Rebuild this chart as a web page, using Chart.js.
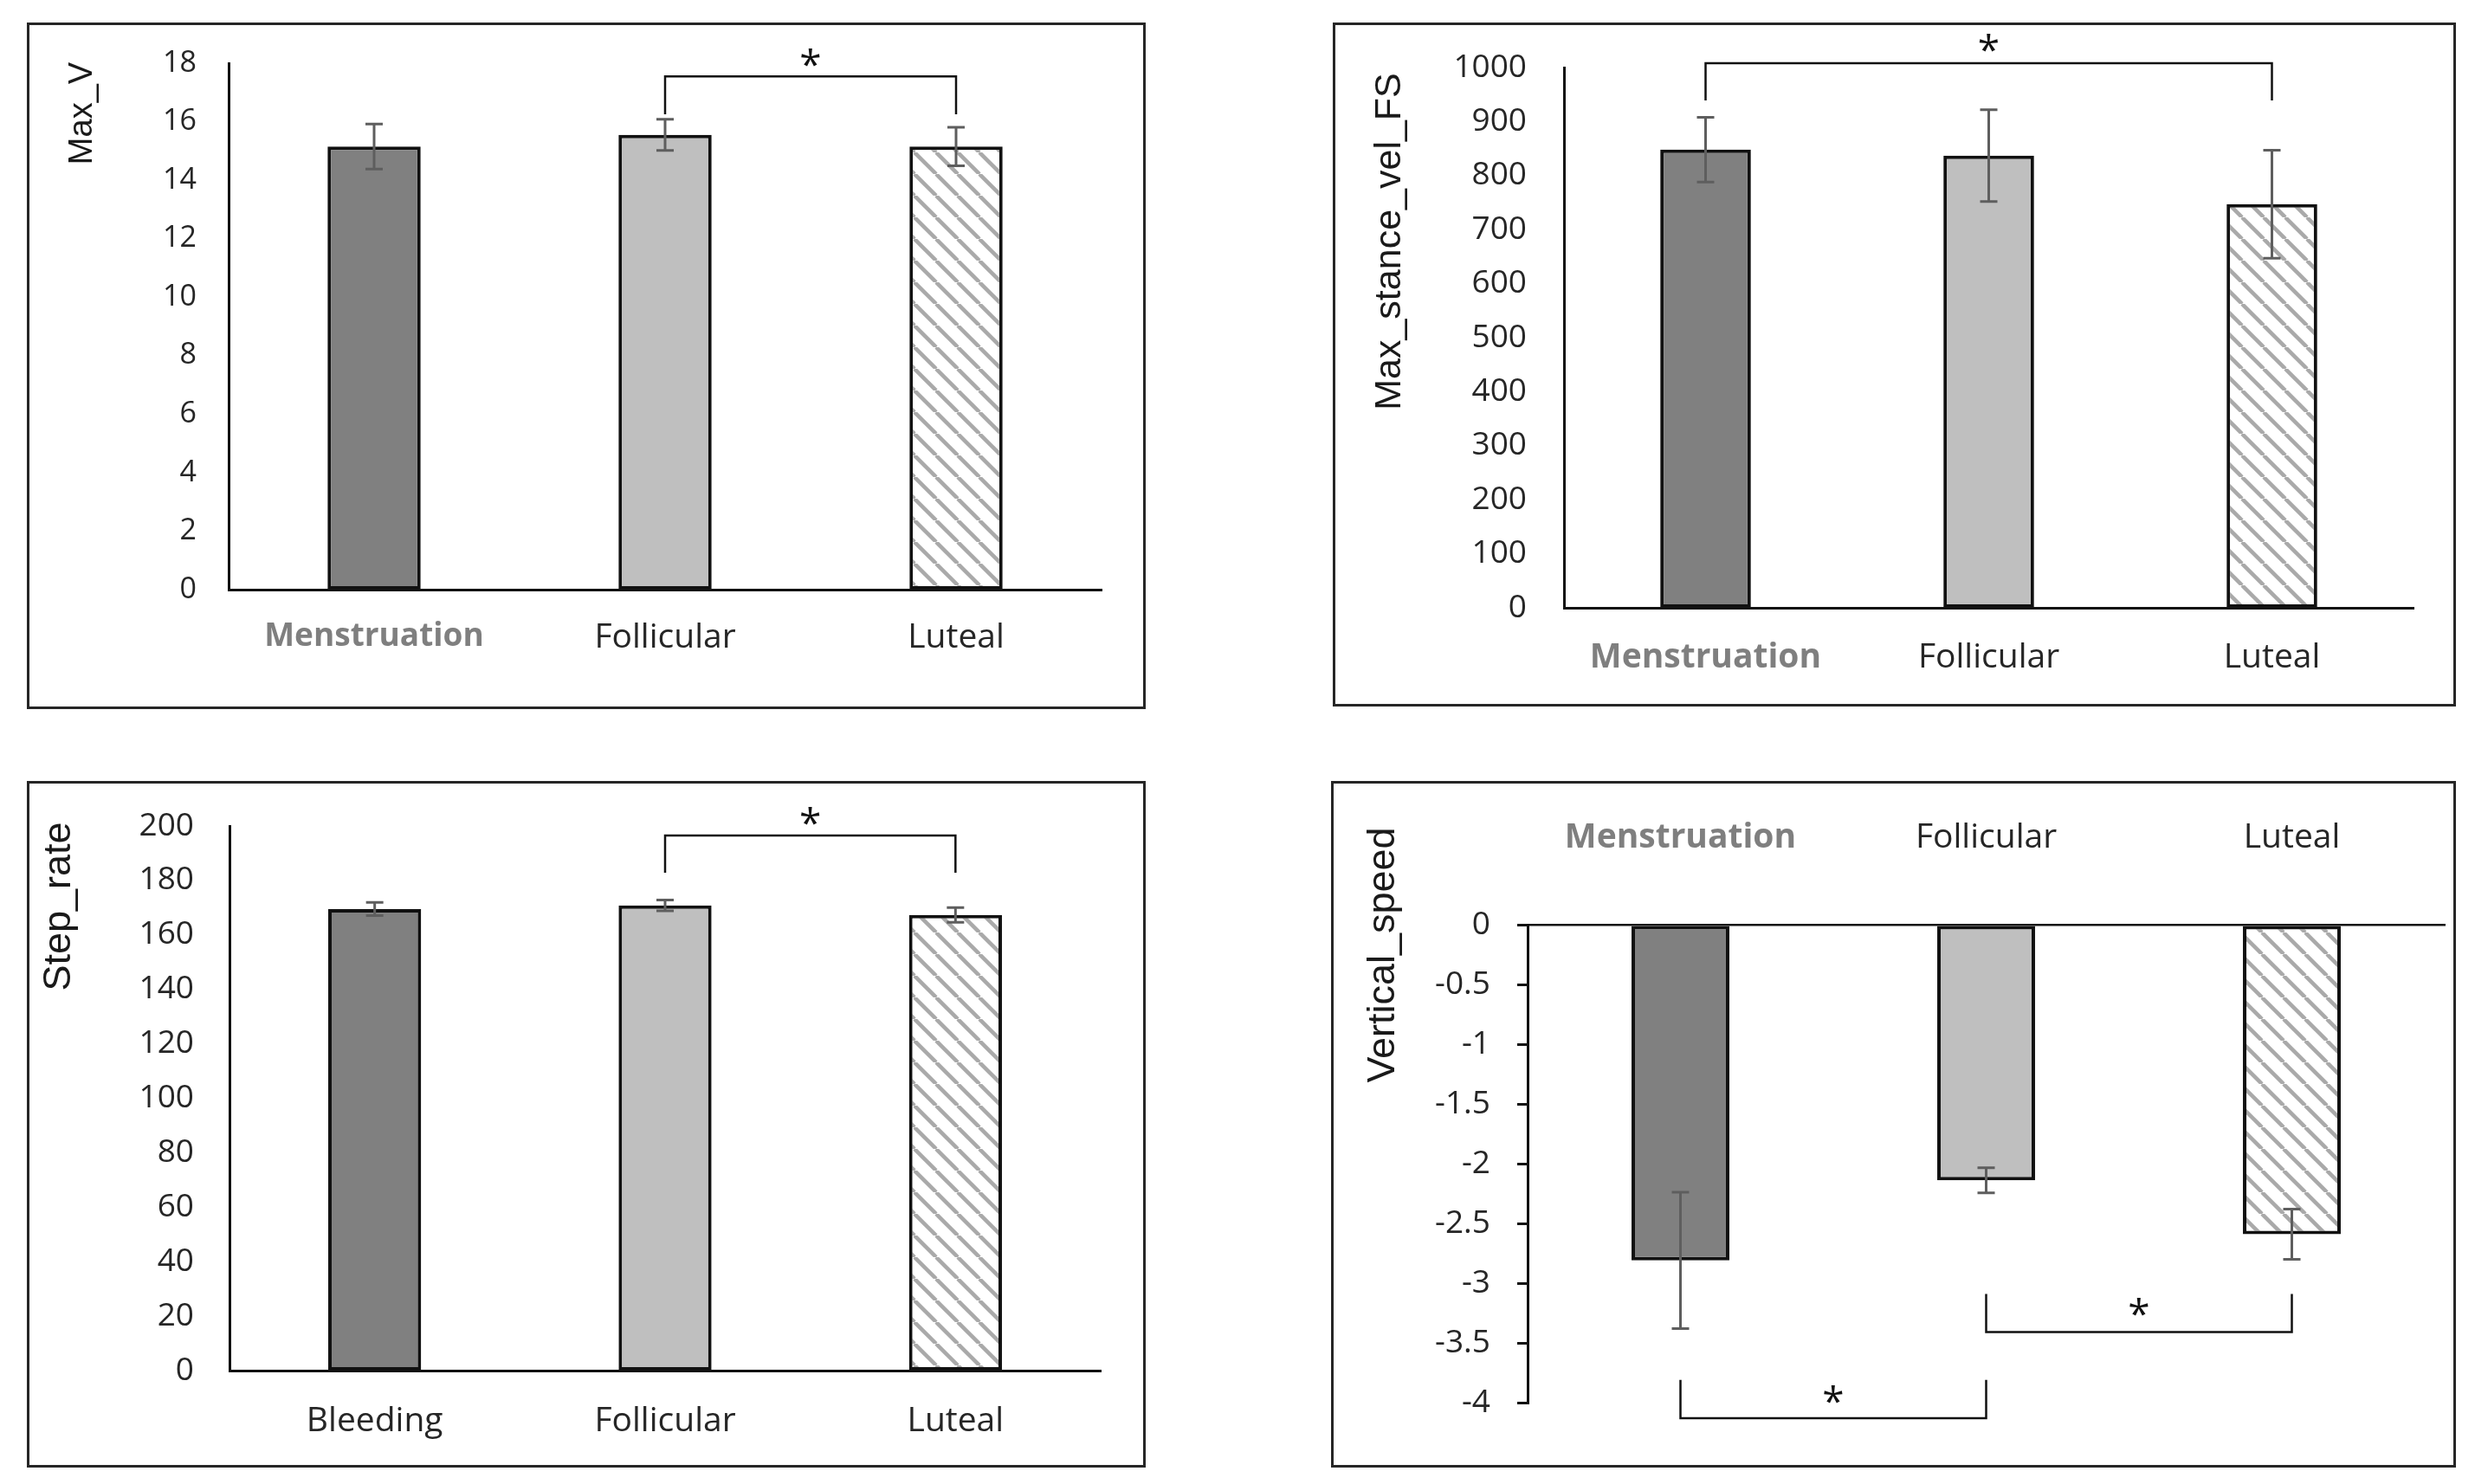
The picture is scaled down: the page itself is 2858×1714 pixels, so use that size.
<!DOCTYPE html>
<html>
<head>
<meta charset="utf-8">
<script src="https://cdn.jsdelivr.net/npm/chart.js@4.4.0/dist/chart.umd.min.js"></script>
<style>
  body { margin: 0; background: #fff; width: 2858px; height: 1714px; position: relative; overflow: hidden; }
  .panel { position: absolute; box-sizing: border-box; border: 3px solid #262626; }
  .panel canvas { position: absolute; left: -3px; top: -3px; }
</style>
</head>
<body>
<div class="panel" style="left:31px;top:26px;width:1292px;height:793px"><canvas id="c1" width="1292" height="793"></canvas></div>
<div class="panel" style="left:1539px;top:26px;width:1297px;height:790px"><canvas id="c2" width="1297" height="790"></canvas></div>
<div class="panel" style="left:31px;top:902px;width:1292px;height:793px"><canvas id="c3" width="1292" height="793"></canvas></div>
<div class="panel" style="left:1537px;top:902px;width:1299px;height:793px"><canvas id="c4" width="1299" height="793"></canvas></div>
<script>
// categories
const phases = ['Menstruation', 'Follicular', 'Luteal'];
const phasesStep = ['Bleeding', 'Follicular', 'Luteal'];

// Max_V
const maxV = [15.15, 15.55, 15.15];
const maxVErr = [0.77, 0.53, 0.66];
const maxVTicks = [0, 2, 4, 6, 8, 10, 12, 14, 16, 18];

// Max_stance_vel_FS
const stanceVel = [848, 837, 747];
const stanceVelErr = [60, 85, 100];
const stanceVelTicks = [0, 100, 200, 300, 400, 500, 600, 700, 800, 900, 1000];

// Step_rate
const stepRate = [169.5, 170.8, 167.3];
const stepRateErr = [2.4, 2.0, 2.7];
const stepRateTicks = [0, 20, 40, 60, 80, 100, 120, 140, 160, 180, 200];

// Vertical_speed
const vertSpeed = [-2.81, -2.14, -2.59];
const vertSpeedErr = [0.57, 0.105, 0.21];
const vertSpeedTicks = [-4, -3.5, -3, -2.5, -2, -1.5, -1, -0.5, 0];

// significance brackets: [from bar, to bar, line value, leg end value, star value]
const maxVSig = [[1, 2, 17.55, 16.25, 18.2]];
const stanceVelSig = [[0, 2, 1008, 939, 1045]];
const stepRateSig = [[1, 2, 196.5, 182.8, 203.5]];
const vertSpeedSig = [[1, 2, -3.41, -3.09, -3.2], [0, 1, -4.13, -3.81, -3.93]];

Chart.defaults.font.family = "'Open Sans', sans-serif";

function hatchPattern(ctx)
{
  const s = 25;
  const tile = document.createElement('canvas');
  tile.width = s;
  tile.height = s;
  const g = tile.getContext('2d');
  g.fillStyle = '#ffffff';
  g.fillRect(0, 0, s, s);
  g.strokeStyle = '#a9a9a9';
  g.lineWidth = 4.5;
  for (const o of [-s, 0, s]) {
    g.beginPath();
    g.moveTo(o, 0);
    g.lineTo(o + s, s);
    g.stroke();
  }
  return ctx.createPattern(tile, 'repeat');
}

// text centred on its visible glyph box
function drawText(ctx, text, x, y, font, color, rot)
{
  ctx.save();
  ctx.font = font;
  ctx.fillStyle = color;
  ctx.textAlign = 'center';
  ctx.textBaseline = 'alphabetic';
  const m = ctx.measureText(text);
  ctx.translate(x, y);
  ctx.rotate(rot);
  ctx.fillText(text, 0, (m.actualBoundingBoxAscent - m.actualBoundingBoxDescent) / 2);
  ctx.restore();
}

function makePanel(p)
{
  const canvas = document.getElementById(p.id);
  const ctx = canvas.getContext('2d');

  const overlay = {
    id: 'overlay',
    afterDraw(chart) {
      const c = chart.ctx;
      const ys = chart.scales.y;
      const bars = chart.getDatasetMeta(0).data;
      c.save();
      // error bars
      c.strokeStyle = '#5e5e5e';
      c.lineWidth = 3;
      p.values.forEach((v, i) => {
        const x = bars[i].x;
        const hi = ys.getPixelForValue(v + p.errors[i]);
        const lo = ys.getPixelForValue(v - p.errors[i]);
        c.beginPath();
        c.moveTo(x, hi); c.lineTo(x, lo);
        c.moveTo(x - 10, hi); c.lineTo(x + 10, hi);
        c.moveTo(x - 10, lo); c.lineTo(x + 10, lo);
        c.stroke();
      });
      // significance brackets
      c.strokeStyle = '#111111';
      c.lineWidth = 2.5;
      p.sig.forEach(([a, b, line, leg, star]) => {
        const xa = bars[a].x, xb = bars[b].x;
        const yl = ys.getPixelForValue(line), yg = ys.getPixelForValue(leg);
        c.beginPath();
        c.moveTo(xa, yg); c.lineTo(xa, yl); c.lineTo(xb, yl); c.lineTo(xb, yg);
        c.stroke();
        drawText(c, '*', (xa + xb) / 2, ys.getPixelForValue(star), "46px 'Open Sans'", '#111111', 0);
      });
      // axis title
      drawText(c, p.title, p.titleX, p.titleY, p.titleSize + "px 'Liberation Sans'", '#1a1a1a', -Math.PI / 2);
      c.restore();
    }
  };

  const isMens = i => p.labels[i] === 'Menstruation';

  new Chart(ctx, {
    type: 'bar',
    data: {
      labels: p.labels,
      datasets: [{
        data: p.values,
        backgroundColor: ['#808080', '#bfbfbf', hatchPattern(ctx)],
        borderColor: '#111111',
        borderWidth: 4,
        borderSkipped: false,
        barPercentage: 0.32,
        categoryPercentage: 1
      }]
    },
    options: {
      responsive: false,
      animation: false,
      layout: { padding: p.padding },
      plugins: {
        legend: { display: false },
        tooltip: { enabled: false }
      },
      scales: {
        x: {
          position: p.xPos,
          grid: { display: false, drawTicks: false },
          border: { display: true, color: '#111111', width: p.xBorder },
          ticks: {
            padding: p.xPad,
            maxRotation: 0,
            autoSkip: false,
            color: c => isMens(c.index) ? '#7f7f7f' : '#262626',
            font: c => isMens(c.index)
              ? { family: "'Open Sans'", size: p.mensSize, weight: 'bold' }
              : { family: "'Open Sans'", size: 39, weight: 'normal' }
          },
          afterFit: s => { s.height = p.xh; s.paddingLeft = 0; s.paddingRight = 0; }
        },
        y: {
          min: p.ticks[0],
          max: p.ticks[p.ticks.length - 1],
          afterBuildTicks: s => { s.ticks = p.ticks.map(v => ({ value: v })); },
          grid: p.yTickMarks
            ? { display: true, drawOnChartArea: false, drawTicks: true, tickLength: 12, color: '#111111', lineWidth: 3 }
            : { display: false, drawTicks: false },
          border: { display: true, color: '#111111', width: 3 },
          ticks: {
            padding: p.yPad,
            color: '#262626',
            font: { size: p.tickSize },
            callback: v => String(v)
          },
          afterFit: s => { s.width = p.yw; s.paddingTop = 0; s.paddingBottom = 0; }
        }
      }
    },
    plugins: [overlay]
  });
}

makePanel({
  id: 'c1', labels: phases, values: maxV, errors: maxVErr, ticks: maxVTicks, sig: maxVSig,
  title: 'Max_V', titleX: 65, titleY: 105, titleSize: 38,
  padding: { left: 0, top: 47, right: 51, bottom: 0 }, yw: 233, xh: 138, mensSize: 37,
  xPos: 'bottom', xPad: 32, xBorder: 3, yPad: 37, tickSize: 34, yTickMarks: false
});

makePanel({
  id: 'c2', labels: phases, values: stanceVel, errors: stanceVelErr, ticks: stanceVelTicks, sig: stanceVelSig,
  title: 'Max_stance_vel_FS', titleX: 66, titleY: 253, titleSize: 43,
  padding: { left: 0, top: 52, right: 49, bottom: 0 }, yw: 267, xh: 114, mensSize: 39,
  xPos: 'bottom', xPad: 34, xBorder: 3, yPad: 43, tickSize: 37, yTickMarks: false
});

makePanel({
  id: 'c3', labels: phasesStep, values: stepRate, errors: stepRateErr, ticks: stepRateTicks, sig: stepRateSig,
  title: 'Step_rate', titleX: 39, titleY: 145, titleSize: 45,
  padding: { left: 0, top: 52, right: 52, bottom: 0 }, yw: 234, xh: 112, mensSize: 39,
  xPos: 'bottom', xPad: 35, xBorder: 3, yPad: 41, tickSize: 37, yTickMarks: false
});

makePanel({
  id: 'c4', labels: phases, values: vertSpeed, errors: vertSpeedErr, ticks: vertSpeedTicks, sig: vertSpeedSig,
  title: 'Vertical_speed', titleX: 61, titleY: 201, titleSize: 45,
  padding: { left: 0, top: 0, right: 13, bottom: 75 }, yw: 227, xh: 166, mensSize: 39,
  xPos: 'top', xPad: 77, xBorder: 2.5, yPad: 31, tickSize: 37, yTickMarks: true
});
</script>
</body>
</html>
